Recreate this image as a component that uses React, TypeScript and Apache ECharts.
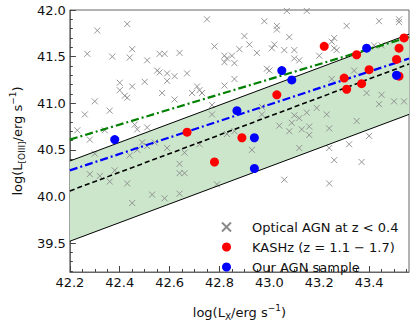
import React, { useEffect, useRef } from "react";
import * as echarts from "echarts";

const opticalAGN: number[][] = [
  [42.43, 41.85], [42.31, 41.78], [42.45, 41.58], [42.27, 41.53], [42.37, 41.5], [42.44, 41.49],
  [42.51, 41.46], [42.56, 41.53], [42.58, 41.53], [42.64, 41.54], [42.55, 41.35], [42.56, 41.33],
  [42.59, 41.32], [42.62, 41.29], [42.59, 41.24], [42.5, 41.23], [42.4, 41.22], [42.45, 41.18],
  [42.4, 41.14], [42.42, 41.08], [42.43, 41.06], [42.57, 41.11], [42.3, 41.02], [42.62, 41.04],
  [42.36, 40.92], [42.26, 40.88], [42.46, 40.77], [42.47, 40.72], [42.51, 40.74], [42.34, 40.71],
  [42.23, 40.71], [42.28, 40.61], [42.75, 41.9], [43.07, 41.99], [42.98, 41.88], [43.03, 41.83],
  [43.03, 41.79], [43.08, 41.71], [42.9, 41.72], [42.92, 41.63], [42.78, 41.61], [42.88, 41.58],
  [42.95, 41.54], [43.02, 41.63], [43.01, 41.59], [43.06, 41.57], [43.1, 41.57], [42.82, 41.51],
  [42.85, 41.51], [42.83, 41.48], [42.82, 41.44], [42.86, 41.43], [43.1, 41.48], [42.67, 41.32],
  [42.99, 41.37], [43.0, 41.35], [42.86, 41.26], [42.82, 41.19], [42.71, 41.18], [42.72, 41.14],
  [42.69, 41.11], [42.73, 41.11], [42.77, 40.98], [42.77, 40.88], [42.97, 40.96], [42.97, 40.88],
  [43.04, 40.76], [43.09, 40.79], [43.1, 40.87], [43.08, 40.7], [42.86, 40.7], [42.83, 40.67],
  [43.15, 41.99], [43.44, 41.88], [43.52, 41.9], [43.52, 41.87], [43.31, 41.83], [43.26, 41.7],
  [43.25, 41.66], [43.26, 41.59], [43.27, 41.57], [43.2, 41.51], [43.12, 41.46], [43.42, 41.62],
  [43.45, 41.62], [43.34, 41.35], [43.25, 41.26], [43.39, 41.11], [43.45, 41.09], [43.44, 40.99],
  [43.5, 41.02], [43.54, 41.02], [43.19, 40.95], [43.23, 40.88], [43.15, 40.9], [43.12, 40.84],
  [43.35, 40.81], [43.16, 40.75], [43.24, 40.73], [43.13, 40.72], [43.16, 40.66], [43.4, 40.65],
  [42.3, 40.46], [42.44, 40.44], [42.49, 40.58], [42.51, 40.54], [42.54, 40.58], [42.59, 40.52],
  [42.47, 40.5], [42.28, 40.24], [42.32, 40.22], [42.38, 40.28], [42.36, 40.16], [42.43, 40.14],
  [42.45, 39.93], [42.53, 40.02], [42.58, 39.98], [42.64, 40.35], [42.64, 40.25], [42.64, 40.03],
  [42.66, 40.47], [42.66, 40.25], [42.79, 40.13], [42.93, 40.5], [43.06, 40.18], [42.72, 40.56],
  [43.12, 40.52], [43.24, 40.52], [43.32, 40.56], [43.26, 40.39], [43.37, 40.37], [43.24, 40.14]
];

const kashz: number[][] = [
  [43.03, 41.09], [42.67, 40.69], [42.89, 40.63], [42.78, 40.37], [43.22, 41.61], [43.35, 41.52],
  [43.54, 41.7], [43.52, 41.59], [43.51, 41.47], [43.52, 41.29], [43.4, 41.36], [43.3, 41.27],
  [43.31, 41.15], [43.37, 41.21], [43.565, 40.93]
];

const ourAGN: number[][] = [
  [42.38, 40.61], [43.05, 41.35], [43.09, 41.25], [42.87, 40.92], [42.94, 40.63], [42.94, 40.3],
  [43.39, 41.59], [43.51, 41.3]
];

const upperEnvelope: number[][] = [[42.2, 40.38], [43.56, 41.74]];
const lowerEnvelope: number[][] = [[42.2, 39.52], [43.56, 40.88]];
const meanRelation: number[][] = [[42.2, 40.06], [43.56, 41.42]];
const greenFit: number[][] = [[42.2, 40.61], [43.56, 41.71]];
const blueFit: number[][] = [[42.2, 40.28], [43.56, 41.48]];

const xTicks = [42.2, 42.4, 42.6, 42.8, 43.0, 43.2, 43.4];
const yTicks = [39.5, 40.0, 40.5, 41.0, 41.5, 42.0];
const xMinorTicks = [42.25, 42.3, 42.35, 42.45, 42.5, 42.55, 42.65, 42.7, 42.75, 42.85, 42.9, 42.95,
  43.05, 43.1, 43.15, 43.25, 43.3, 43.35, 43.45, 43.5, 43.55];
const yMinorTicks = [39.2, 39.3, 39.4, 39.6, 39.7, 39.8, 39.9, 40.1, 40.2, 40.3, 40.4, 40.6, 40.7, 40.8,
  40.9, 41.1, 41.2, 41.3, 41.4, 41.6, 41.7, 41.8, 41.9];

const X_MIN = 42.2;
const X_MAX = 43.56;
const Y_MIN = 39.19;
const Y_MAX = 42.0;
const FONT = "DejaVu Sans";
const CROSS = "path://M0,0L10,10M10,0L0,10";

export default function App() {
  const ref = useRef<HTMLDivElement>(null);
  useEffect(() => {
    document.body.style.margin = "0";
    if (!ref.current) return;
    const chart = echarts.init(ref.current, null, { renderer: "svg" });
    const axisColor = "#666";
    const fmt = (v: number) => v.toFixed(1);
    const rich = {
      a: { fontSize: 13, lineHeight: 18, color: "#111", fontFamily: FONT },
      sub: { fontSize: 9, lineHeight: 12, verticalAlign: "bottom", color: "#111", fontFamily: FONT },
      sup: { fontSize: 9, lineHeight: 10, verticalAlign: "top", color: "#111", fontFamily: FONT }
    };
    chart.setOption({
      animation: false,
      textStyle: { fontFamily: FONT },
      grid: { left: 58, right: 6, top: 10, bottom: 43, show: true, borderColor: axisColor, borderWidth: 1, backgroundColor: "transparent" },
      xAxis: [
        {
          type: "value", min: X_MIN, max: X_MAX, position: "bottom",
          axisLine: { show: true, lineStyle: { color: axisColor, width: 1 } },
          axisTick: { show: true, inside: true, length: 6, customValues: xTicks, lineStyle: { color: "#444" } },
          axisLabel: { customValues: xTicks, formatter: fmt, fontSize: 13, color: "#111", margin: 4, fontFamily: FONT },
          splitLine: { show: false },
          name: "{a|log(L}{sub|X}{a|/erg s}{sup|−1}{a|)}",
          nameLocation: "middle", nameGap: 31,
          nameTextStyle: { rich }
        },
        {
          type: "value", min: X_MIN, max: X_MAX, position: "bottom",
          axisLine: { show: false },
          axisTick: { show: true, inside: true, length: 3, customValues: xMinorTicks, lineStyle: { color: "#444" } },
          axisLabel: { show: false },
          splitLine: { show: false }
        }
      ],
      yAxis: [
        {
          type: "value", min: Y_MIN, max: Y_MAX, position: "left",
          axisLine: { show: true, lineStyle: { color: axisColor, width: 1 } },
          axisTick: { show: true, inside: true, length: 6, customValues: yTicks, lineStyle: { color: "#444" } },
          axisLabel: { customValues: yTicks, formatter: fmt, fontSize: 13, color: "#111", margin: 4, fontFamily: FONT },
          splitLine: { show: false },
          name: "{a|log(L}{sub|[OIII]}{a|/erg s}{sup|−1}{a|)}",
          nameLocation: "middle", nameGap: 29, nameRotate: 90,
          nameTextStyle: { rich }
        },
        {
          type: "value", min: Y_MIN, max: Y_MAX, position: "left",
          axisLine: { show: false },
          axisTick: { show: true, inside: true, length: 3, customValues: yMinorTicks, lineStyle: { color: "#444" } },
          axisLabel: { show: false },
          splitLine: { show: false }
        }
      ],
      legend: {
        data: ["Optical AGN at z < 0.4", "KASHz (z = 1.1 − 1.7)", "Our AGN sample"],
        orient: "vertical", left: 216, top: 214,
        itemWidth: 9, itemHeight: 9, itemGap: 4,
        textStyle: { fontSize: 13, lineHeight: 16, color: "#111", padding: [0, 0, 0, 16], fontFamily: FONT },
        selectedMode: false
      },
      series: [
        {
          type: "custom", name: "band", z: 1, silent: true,
          data: [[X_MIN, Y_MIN]],
          renderItem: (_p: any, api: any) => {
            const pts = [
              api.coord(lowerEnvelope[0]), api.coord(lowerEnvelope[1]),
              api.coord(upperEnvelope[1]), api.coord(upperEnvelope[0])
            ];
            return { type: "polygon", shape: { points: pts }, style: { fill: "#cce6cc" } };
          }
        },
        {
          type: "scatter", name: "Optical AGN at z < 0.4", z: 2, data: opticalAGN,
          symbol: CROSS, symbolSize: 6,
          itemStyle: { color: "rgba(0,0,0,0)", borderColor: "#8a8a8a", borderWidth: 0.9, opacity: 1 }
        },
        { type: "line", name: "lower", z: 3, data: lowerEnvelope, symbol: "none", lineStyle: { color: "#000", width: 1 } },
        { type: "line", name: "upper", z: 3, data: upperEnvelope, symbol: "none", lineStyle: { color: "#000", width: 1 } },
        { type: "line", name: "mean", z: 3, data: meanRelation, symbol: "none", lineStyle: { color: "#000", width: 1.6, type: [5, 3] } },
        { type: "line", name: "green", z: 3, data: greenFit, symbol: "none", lineStyle: { color: "#008000", width: 2.2, type: [8, 3, 2, 3] } },
        { type: "line", name: "blue", z: 3, data: blueFit, symbol: "none", lineStyle: { color: "#0000ff", width: 2.2, type: [8, 3, 2, 3] } },
        {
          type: "scatter", name: "KASHz (z = 1.1 − 1.7)", z: 4, data: kashz,
          symbol: "circle", symbolSize: 9, itemStyle: { color: "#ff0000", opacity: 1 }
        },
        {
          type: "scatter", name: "Our AGN sample", z: 5, data: ourAGN,
          symbol: "circle", symbolSize: 9, itemStyle: { color: "#0000ff", opacity: 1 }
        }
      ]
    });
    return () => chart.dispose();
  }, []);
  return <div ref={ref} style={{ width: 415, height: 326 }} />;
}
